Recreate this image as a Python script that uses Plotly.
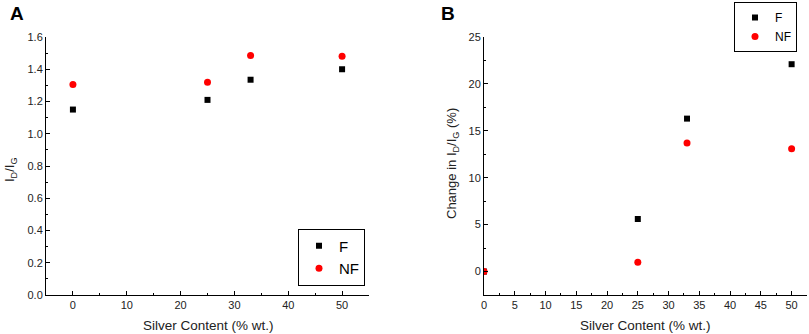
import plotly.graph_objects as go

silver = [0, 25, 33, 50]
ratio_F = [1.15, 1.21, 1.335, 1.40]
ratio_NF = [1.305, 1.32, 1.485, 1.48]
change_F = [0.0, 5.6, 16.3, 22.1]
change_NF = [0.0, 1.0, 13.7, 13.1]

W, H = 809, 334
FONT = "Liberation Sans, Arial, sans-serif"

def px(x):
    return x / W

def py(y):
    return 1 - y / H

fig = go.Figure()
sq = dict(symbol="square", size=6, color="black")
ci = dict(symbol="circle", size=7, color="#ff0000")

fig.add_trace(go.Scatter(x=silver, y=ratio_F, mode="markers", marker=sq, name="F",
                         xaxis="x", yaxis="y", legend="legend"))
fig.add_trace(go.Scatter(x=silver, y=ratio_NF, mode="markers", marker=ci, name="NF",
                         xaxis="x", yaxis="y", legend="legend"))
fig.add_trace(go.Scatter(x=silver, y=change_F, mode="markers", marker=sq, name="F",
                         xaxis="x2", yaxis="y2", legend="legend2"))
fig.add_trace(go.Scatter(x=silver, y=change_NF, mode="markers", marker=ci, name="NF",
                         xaxis="x2", yaxis="y2", legend="legend2"))

axis_common = dict(showgrid=False, zeroline=False, showline=True, linecolor="black",
                   linewidth=1, ticks="inside", ticklen=4, tickcolor="black",
                   tickfont=dict(family=FONT, size=11, color="#222"), mirror=False,
                   automargin=False)

fig.update_layout(
    width=W, height=H, margin=dict(l=0, r=0, t=0, b=0, autoexpand=False),
    paper_bgcolor="white", plot_bgcolor="white",
    font=dict(family=FONT, color="#222"),
    xaxis=dict(domain=[px(46), px(369)], range=[-5, 55], dtick=10, anchor="y",
               minor=dict(dtick=5, ticks="inside", ticklen=2, tickcolor="black"),
               **axis_common),
    yaxis=dict(domain=[py(295), py(37)], range=[0, 1.6], dtick=0.2, tickformat=".1f", anchor="x",
               minor=dict(dtick=0.1, ticks="inside", ticklen=2, tickcolor="black"),
               **axis_common),
    xaxis2=dict(domain=[px(484), px(807)], range=[0, 52.5], dtick=5, anchor="y2",
                minor=dict(dtick=2.5, ticks="inside", ticklen=2, tickcolor="black"),
                **axis_common),
    yaxis2=dict(domain=[py(295), py(37)], range=[-2.5, 25], dtick=5, anchor="x2",
                minor=dict(dtick=2.5, ticks="inside", ticklen=2, tickcolor="black"),
                **axis_common),
    legend=dict(x=px(365), y=py(257), xanchor="right", yanchor="middle",
                bordercolor="black", borderwidth=1, bgcolor="white",
                font=dict(family=FONT, size=15, color="black"), itemwidth=30,
                tracegroupgap=0),
    legend2=dict(x=px(797), y=py(2), xanchor="right", yanchor="top",
                 bordercolor="black", borderwidth=1, bgcolor="white",
                 font=dict(family=FONT, size=12, color="black"), itemwidth=30,
                 tracegroupgap=0),
    showlegend=True,
)

ann = [
    dict(text="<b>A</b>", x=px(17), y=py(13), font=dict(size=19, color="black")),
    dict(text="<b>B</b>", x=px(448), y=py(13), font=dict(size=19, color="black")),
    dict(text="Silver Content (% wt.)", x=px(208), y=py(325), font=dict(size=13.5, color="#222")),
    dict(text="Silver Content (% wt.)", x=px(645), y=py(325), font=dict(size=13.5, color="#222")),
    dict(text="I<sub>D</sub>/I<sub>G</sub>", x=px(10), y=py(170), textangle=-90,
         font=dict(size=13, color="#222")),
    dict(text="Change in I<sub>D</sub>/I<sub>G</sub> (%)", x=px(452), y=py(163), textangle=-90,
         font=dict(size=13, color="#222")),
]
for a in ann:
    a.update(xref="paper", yref="paper", showarrow=False, xanchor="center", yanchor="middle")
    a["font"]["family"] = FONT
    fig.add_annotation(**a)

fig.write_html("out.html", config={"displayModeBar": False})

# remove the browser's default page margin so the figure sits at the window's corner
with open("out.html", "r", encoding="utf-8") as f:
    html = f.read()
html = html.replace("<head>", "<head><style>html,body{margin:0;padding:0;overflow:hidden;}</style>", 1)
with open("out.html", "w", encoding="utf-8") as f:
    f.write(html)
